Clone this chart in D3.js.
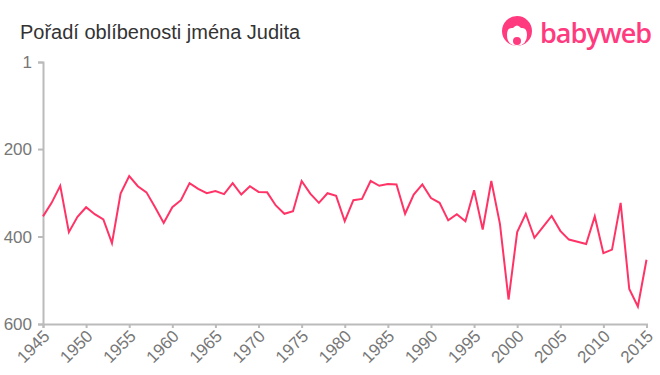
<!DOCTYPE html>
<html>
<head>
<meta charset="utf-8">
<script src="https://cdn.jsdelivr.net/npm/d3@7"></script>
<style>
  body { margin: 0; background: #fff; }
  svg { display: block; font-family: "Liberation Sans", Arial, sans-serif; }
</style>
</head>
<body>
<div id="chart"></div>
<script>
// data
const years = d3.range(1945, 2016);
const ranks = [
  354, 323, 284, 390, 355, 333, 349, 361, 415, 302,
  262, 285, 299, 333, 369, 333, 317, 278, 291, 301,
  296, 303, 278, 304, 285, 298, 299, 329, 348, 342,
  273, 302, 323, 301, 307, 365, 317, 314, 273, 284,
  280, 281, 348, 304, 281, 312, 323, 363, 349, 365,
  294, 384, 273, 371, 544, 390, 348, 403, 378, 353,
  387, 407, 412, 417, 354, 438, 430, 323, 520, 560,
  453
];
const yTicks = [1, 200, 400, 600];
const xTicks = d3.range(1945, 2016, 5);

const width = 660, height = 375;
const margin = { top: 62, right: 13.5, bottom: 51, left: 43 };

const svg = d3.select("#chart").append("svg")
  .attr("width", width)
  .attr("height", height);

const x = d3.scaleLinear()
  .domain([1945, 2015])
  .range([margin.left, width - margin.right]);

const y = d3.scaleLinear()
  .domain([1, 600])
  .range([margin.top, height - margin.bottom]);

// title
svg.append("text")
  .attr("x", 20)
  .attr("y", 39)
  .attr("fill", "#333")
  .attr("font-size", 20)
  .text("Pořadí oblíbenosti jména Judita");

// logo
const logo = svg.append("g").attr("transform", "translate(517,31)");
logo.append("circle").attr("r", 15).attr("fill", "#ff3a7f");
logo.append("path")
  .attr("d", "M-10,4 Q-10,-4 -4,-3 Q0,-8 4,-3 Q10,-4 10,4 Q10,14 0,15 Q-10,14 -10,4Z")
  .attr("fill", "#fff");
logo.append("circle").attr("cx", 0).attr("cy", 10).attr("r", 4).attr("fill", "#ff3a7f");
svg.append("text")
  .attr("x", 540)
  .attr("y", 43)
  .attr("fill", "#ff3a7f")
  .attr("font-size", 27)
  .attr("font-family", "'Open Sans', sans-serif")
  .attr("font-weight", 600)
  .attr("letter-spacing", -1)
  .text("babyweb");

// axes
const yAxis = svg.append("g")
  .attr("transform", `translate(${margin.left},0)`)
  .call(d3.axisLeft(y).tickValues(yTicks).tickSize(5).tickPadding(6));

const xAxis = svg.append("g")
  .attr("transform", `translate(0,${height - margin.bottom})`)
  .call(d3.axisBottom(x).tickValues(xTicks).tickFormat(d3.format("d")).tickSize(4));

[yAxis, xAxis].forEach(g => {
  g.select(".domain").attr("stroke", "#bbb").attr("stroke-width", 2);
  g.selectAll(".tick line").attr("stroke", "#bbb").attr("stroke-width", 2);
  g.selectAll("text").attr("fill", "#777").attr("font-family", "'Liberation Sans', Arial, sans-serif");
});

yAxis.selectAll("text").style("font-size", "17px").attr("dy", "0.35em");

xAxis.selectAll("text")
  .style("font-size", "17px")
  .attr("text-anchor", "end")
  .attr("x", 0)
  .attr("y", 0)
  .attr("dx", 0)
  .attr("dy", "0.35em")
  .attr("transform", "translate(3,9) rotate(-45)");

// line
const line = d3.line()
  .x((d, i) => x(years[i]))
  .y(d => y(d));

svg.append("path")
  .datum(ranks)
  .attr("fill", "none")
  .attr("stroke", "#ff3366")
  .attr("stroke-width", 2)
  .attr("stroke-linejoin", "miter")
  .attr("d", line);
</script>
</body>
</html>
